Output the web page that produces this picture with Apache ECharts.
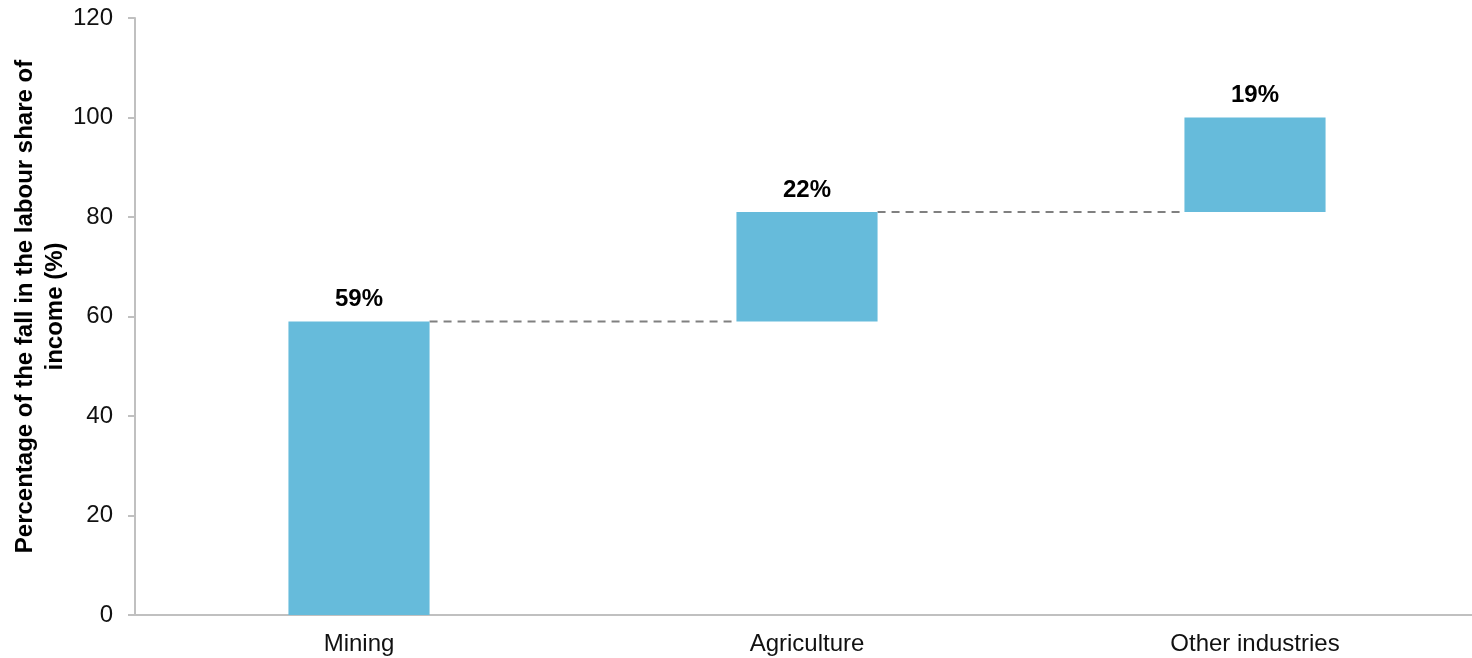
<!DOCTYPE html>
<html><head><meta charset="utf-8">
<script src="https://cdn.jsdelivr.net/npm/echarts@6/dist/echarts.min.js"></script>
<style>html,body{margin:0;padding:0;background:#fff}#c{width:1472px;height:658px}</style>
</head><body><div id="c"></div>
<script>
const categories = ['Mining', 'Agriculture', 'Other industries'];
const contributions = [59, 22, 19];
const labels = ['59%', '22%', '19%'];
const yTicks = [0, 20, 40, 60, 80, 100, 120];

const bases = [];
let run = 0;
for (const v of contributions) { bases.push(run); run += v; }
const tops = contributions.map((v, i) => bases[i] + v);
const connectors = tops.slice(0, -1).map((t, i) => [i, t]);
const BAR_FRAC = 0.315;
const FONT = 'Liberation Sans, Arial, sans-serif';

const chart = echarts.init(document.getElementById('c'));
chart.setOption({
  animation: false,
  grid: { left: 135, top: 18, width: 1344, bottom: 43, containLabel: false, outerBoundsMode: 'none' },
  xAxis: {
    type: 'category', data: categories,
    axisLine: { lineStyle: { color: '#c0c0c0', width: 2 } },
    axisTick: { show: false },
    axisLabel: { color: '#111', fontSize: 24, fontFamily: FONT, margin: 17 }
  },
  yAxis: {
    type: 'value', min: yTicks[0], max: yTicks[yTicks.length - 1], interval: 20,
    name: 'Percentage of the fall in the labour share of\nincome (%)',
    nameLocation: 'middle', nameGap: 65, nameMoveOverlap: false,
    nameTextStyle: { fontSize: 24, fontWeight: 'bold', color: '#000', fontFamily: FONT, lineHeight: 30, align: 'center', padding: [0, 0, 0, 20] },
    axisLine: { show: true, lineStyle: { color: '#c0c0c0', width: 2 } },
    axisTick: { show: true, length: 7, lineStyle: { color: '#c0c0c0', width: 2 } },
    splitLine: { show: false },
    axisLabel: { color: '#111', fontSize: 24, fontFamily: FONT, margin: 22 }
  },
  series: [
    {
      type: 'bar', stack: 'w', data: bases, barWidth: (BAR_FRAC * 100) + '%',
      itemStyle: { color: 'transparent' }, silent: true
    },
    {
      type: 'bar', stack: 'w', data: contributions, barWidth: (BAR_FRAC * 100) + '%',
      itemStyle: { color: '#66bbdb' },
      label: {
        show: true, position: 'top', distance: 10,
        formatter: p => labels[p.dataIndex],
        fontSize: 24, fontWeight: 'bold', color: '#000', fontFamily: FONT
      }
    },
    {
      type: 'custom', data: connectors, z: 1,
      renderItem: function (params, api) {
        const i = api.value(0), y = api.value(1);
        const p1 = api.coord([i, y]);
        const p2 = api.coord([i + 1, y]);
        const bw = api.size([1, 0])[0] * BAR_FRAC / 2;
        return {
          type: 'line',
          shape: { x1: p1[0] + bw, y1: p1[1], x2: p2[0] - bw, y2: p2[1] },
          style: { stroke: '#808080', lineWidth: 2, lineDash: [8, 6] }
        };
      }
    }
  ]
});
</script></body></html>
